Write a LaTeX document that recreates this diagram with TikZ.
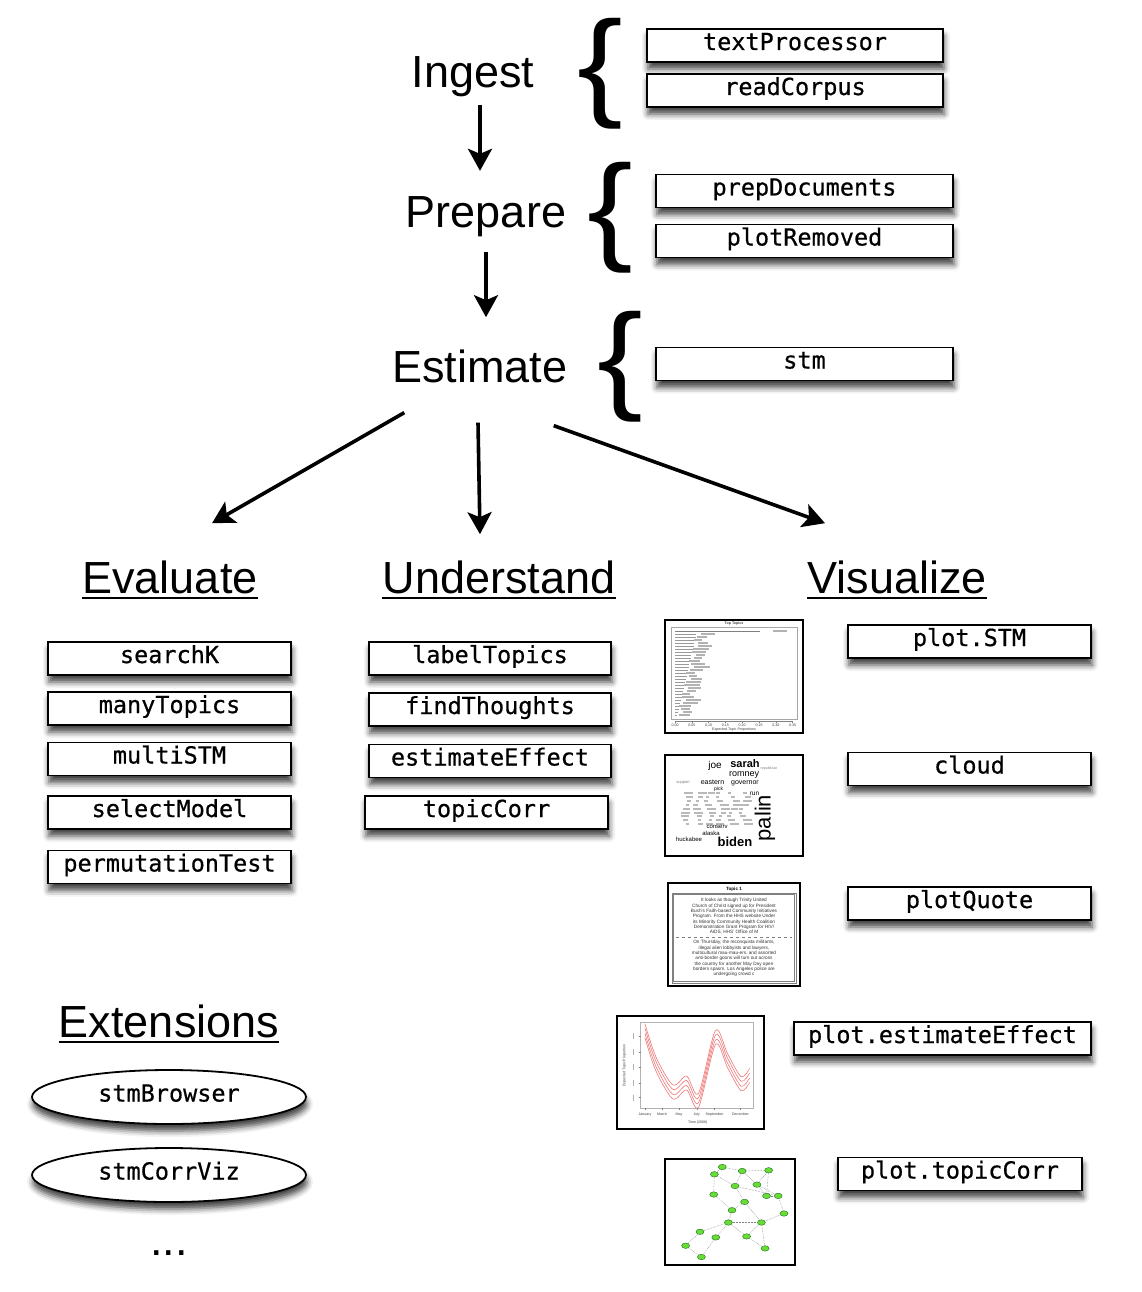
\documentclass[tikz,border=0pt]{standalone}
\usepackage{fontspec}
\setmainfont{Liberation Sans}
\setmonofont{DejaVu Sans Mono}
\newfontfamily\boxfont[BoldFont={DejaVu Sans Mono},BoldFeatures={FakeBold=0.6}]{DejaVu Sans Mono}
\usetikzlibrary{arrows.meta,shapes.geometric,shadows.blur}
\definecolor{netgreen}{RGB}{105,220,55}
\definecolor{curvered}{RGB}{240,120,120}

\begin{document}
\begin{tikzpicture}[x=1pt,y=-1pt,
  stage/.style={inner sep=0pt,anchor=base,font=\fontsize{45}{50}\selectfont},
  fnbox/.style={draw,line width=1.8pt,fill=white,inner sep=0pt,minimum height=33pt,
    text height=16pt,text depth=7pt,font=\boxfont\bfseries\fontsize{23.5}{26}\selectfont,
    blur shadow={shadow xshift=1pt,shadow yshift=-7pt,shadow blur radius=6pt,shadow opacity=75}},
  extbox/.style={fnbox,ellipse,minimum width=274pt,minimum height=54pt},
  flow/.style={line width=3.6pt,-{Stealth[length=22pt,width=24pt,inset=5pt]}},
  brace/.style={inner sep=0pt,font=\fontsize{119}{120}\selectfont},
  uline/.style={line width=2.6pt},
  thumb/.style={draw,line width=1.6pt,fill=white},
  thumbtxt/.style={inner sep=0pt,font=\fontsize{3.6}{4}\selectfont,text=black!75},
  netnode/.style={ellipse,fill=netgreen,draw=green!35!black,line width=0.3pt,minimum width=8pt,minimum height=5.5pt,inner sep=0pt},
]
\useasboundingbox (0,0) rectangle (1142,1292);

% pipeline
\node[stage] (ingest) at (473,88) {Ingest};
\node[stage] (prepare) at (486,227) {Prepare};
\node[stage] (estimate) at (480,382) {Estimate};

\draw[flow,shorten <=7pt,shorten >=25pt] ([xshift=7pt]ingest.south) -- ([xshift=-6pt]prepare.north);
\draw[flow,shorten <=15pt,shorten >=32pt] (prepare.south) -- (prepare.south |- estimate.north);

\node[brace] (br1) at (600,74) {\scalebox{1.15}[1]{\{}};
\node[brace] (br2) at (610,218) {\scalebox{1.15}[1]{\{}};
\node[brace] (br3) at (620,367) {\scalebox{1.15}[1]{\{}};

\node[fnbox,minimum width=296pt] (textProcessor) at (795,45.5) {textProcessor};
\node[fnbox,minimum width=296pt] (readCorpus) at (795,90.5) {readCorpus};
\node[fnbox,minimum width=297pt] (prepDocuments) at (804.5,191) {prepDocuments};
\node[fnbox,minimum width=297pt] (plotRemoved) at (804.5,241) {plotRemoved};
\node[fnbox,minimum width=297pt] (stm) at (804.5,364) {stm};

% three branches
\node[stage] (evaluate) at (170,593) {Evaluate};
\node[stage] (understand) at (499,593) {Understand};
\node[stage] (visualize) at (897,593) {Visualize};
\foreach \h in {evaluate,understand,visualize}
  \draw[uline] ([yshift=-5pt]\h.base west) -- ([yshift=-5pt]\h.base east);

\draw[flow] ([xshift=12pt,yshift=-30pt]estimate.south west) -- ([xshift=42pt,yshift=37pt]evaluate.north);
\draw[flow] ([xshift=-2pt,yshift=-40pt]estimate.south) -- ([xshift=-19pt,yshift=26pt]understand.north);
\draw[flow] ([xshift=-14pt,yshift=-43pt]estimate.south east) -- ([xshift=-72pt,yshift=37pt]visualize.north);

\node[fnbox,minimum width=243pt] (searchK) at (169.5,658.5) {searchK};
\node[fnbox,minimum width=243pt] (manyTopics) at (169.5,708.5) {manyTopics};
\node[fnbox,minimum width=243pt] (multiSTM) at (169.5,759) {multiSTM};
\node[fnbox,minimum width=243pt] (selectModel) at (169.5,812.5) {selectModel};
\node[fnbox,minimum width=243pt] (permutationTest) at (169.5,867) {permutationTest};

\node[fnbox,minimum width=242pt] (labelTopics) at (490,658.5) {labelTopics};
\node[fnbox,minimum width=242pt] (findThoughts) at (490,709.5) {findThoughts};
\node[fnbox,minimum width=242pt] (estimateEffect) at (490,761) {estimateEffect};
\node[fnbox,minimum width=243pt] (topicCorr) at (486.5,812.5) {topicCorr};

\node[fnbox,minimum width=243pt] (plotSTM) at (969.5,641.5) {plot.STM};
\node[fnbox,minimum width=243pt] (cloud) at (969.5,769) {cloud};
\node[fnbox,minimum width=243pt] (plotQuote) at (969.5,903.5) {plotQuote};
\node[fnbox,minimum width=297pt] (plotEffect) at (942.5,1038.5) {plot.estimateEffect};
\node[fnbox,minimum width=244pt] (plotCorr) at (960,1174) {plot.topicCorr};

% extensions
\node[stage] (extensions) at (169,1037) {Extensions};
\draw[uline] ([yshift=-5pt]extensions.base west) -- ([yshift=-5pt]extensions.base east);
\node[extbox] (stmBrowser) at (169,1097) {stmBrowser};
\node[extbox] (stmCorrViz) at (169,1175) {stmCorrViz};
\node[stage] (more) at (169,1255) {...};

% thumbnail: plot.STM
\begin{scope}[shift={(665,620)}]
\draw[thumb] (0,0) rectangle (138,113);
\draw[gray!70,line width=0.6pt] (6,7) rectangle (132,99);
\node[thumbtxt,font=\bfseries\fontsize{3.6}{4}\selectfont] (stmTitle) at (69,4) {Top Topics};
\draw[gray,line width=0.5pt] (10,11) -- (95,11);
\draw[gray!60,line width=1.3pt] (108,11) -- +(14,0);
\foreach \i in {1,...,28} {
  \draw[gray!80,line width=0.4pt] (10,{11+\i*3}) -- ({32-0.7*\i},{11+\i*3});
  \draw[gray!60,line width=1.3pt] ({34-0.7*\i+3*sin(\i*97)},{11+\i*3}) -- +({12+4*cos(\i*61)},0);
}
\draw[gray,line width=0.4pt] (10,101) -- (128,101);
\foreach \k/\v in {0/0.00,1/0.05,2/0.10,3/0.15,4/0.20,5/0.25,6/0.30,7/0.35} {
  \draw[gray,line width=0.4pt] ({10+\k*16.8},101) -- +(0,2);
  \node[thumbtxt] (stmTick\k) at ({10+\k*16.8},105.5) {\v};
}
\node[thumbtxt] (stmAxis) at (69,110) {Expected Topic Proportions};
\end{scope}

% thumbnail: cloud
\begin{scope}[shift={(665,755)}]
\draw[thumb] (0,0) rectangle (138,101);
\foreach \r in {0,...,8}
  \foreach \c in {0,...,5}
    \draw[gray!55,line width=2pt] ({19+\c*11.5+3*sin(\r*50+\c*80)},{38+\r*3.9}) -- +({6+3*cos(\r*70+\c*40)},0);
\node[inner sep=0pt,font=\bfseries\fontsize{11}{11}\selectfont] (wSarah) at (80,8.2) {sarah};
\node[inner sep=0pt,font=\fontsize{10}{10}\selectfont] (wJoe) at (50,11) {joe};
\node[inner sep=0pt,text=gray,font=\fontsize{3.6}{4}\selectfont] (wRep) at (104,13.8) {republican};
\node[inner sep=0pt,font=\fontsize{9}{9}\selectfont] (wRomney) at (79,20.5) {romney};
\node[inner sep=0pt,font=\fontsize{7}{8}\selectfont] (wEastern) at (47.5,27.5) {eastern};
\node[inner sep=0pt,font=\fontsize{7}{8}\selectfont] (wGovernor) at (80,28) {governor};
\node[inner sep=0pt,text=gray,font=\fontsize{4}{4}\selectfont] (wSupport) at (18,28) {support};
\node[inner sep=0pt,font=\fontsize{5}{5}\selectfont] (wPick) at (53.6,33.8) {pick};
\node[inner sep=0pt,font=\fontsize{6.5}{7}\selectfont] (wRun) at (89.5,38.5) {run};
\node[inner sep=0pt,rotate=90,font=\fontsize{22}{22}\selectfont] (wPalin) at (100,63) {palin};
\node[inner sep=0pt,font=\fontsize{6}{6}\selectfont] (wConserv) at (52,72) {conserv};
\node[inner sep=0pt,font=\fontsize{6}{6}\selectfont] (wAlaska) at (46,78.5) {alaska};
\node[inner sep=0pt,font=\fontsize{6}{6}\selectfont] (wHuckabee) at (24,84.5) {huckabee};
\node[inner sep=0pt,font=\bfseries\fontsize{13}{13}\selectfont] (wBiden) at (70,87) {biden};
\end{scope}

% thumbnail: plotQuote
\begin{scope}[shift={(668,883)}]
\draw[thumb] (0,0) rectangle (132,103);
\draw[gray,line width=0.5pt] (4,10) rectangle (128,100);
\draw[gray,line width=0.5pt] (5.5,11.5) rectangle (126.5,98.5);
\node[inner sep=0pt,font=\bfseries\fontsize{4.6}{5}\selectfont] (qTitle) at (66,6.5) {Topic 1};
\node[inner sep=0pt,align=center,text=black!80,font=\fontsize{4.7}{5.35}\selectfont] (quoteA) at (66,33.5)
  {It looks as though Trinity United\\Church of Christ signed up for President\\Bush's Faith-based Community Initiatives\\Program. From the HHS website Under\\its Minority Community Health Coalition\\Demonstration Grant Program for HIV/\\AIDS, HHS' Office of M};
\draw[gray,dashed,line width=0.4pt] (8,54) -- (124,54);
\node[inner sep=0pt,align=center,text=black!80,font=\fontsize{4.7}{5.35}\selectfont] (quoteB) at (66,75.5)
  {On Thursday, the reconquista militants,\\illegal alien lobbyists and lawyers,\\multicultural mau-mau-ers, and assorted\\anti-border goons will turn out across\\the country for another May Day open\\borders spasm. Los Angeles police are\\undergoing crowd c};
\end{scope}

% thumbnail: plot.estimateEffect
\begin{scope}[shift={(617,1016)}]
\draw[thumb] (0,0) rectangle (147,113);
\draw[gray!60,line width=0.8pt] (23.5,6) rectangle (136.7,92.4);
\node[thumbtxt,rotate=90] (yLab) at (7.5,49.5) {Expected Topic Proportion};
\foreach \t in {19.8,36.3,51.2,67,81.5} {
  \draw[gray,line width=0.4pt] (21.5,\t) -- (23.5,\t);
  \draw[gray!60,line width=1pt] (16.5,{\t-3}) -- (16.5,{\t+3});
}
\foreach \m/\xx in {January/28,March/45,May/62,July/79.8,September/97.5,December/123.4} {
  \draw[gray,line width=0.4pt] (\xx,92.4) -- (\xx,94.4);
  \node[thumbtxt] (m\m) at (\xx,98.5) {\m};
}
\node[thumbtxt] (xLab) at (80.8,106.6) {Time (2008)};
\foreach \d in {-7,-2.5,2.5,7}
  \draw[curvered,line width=0.6pt,yshift=\d pt] plot[smooth] coordinates
    {(28,14.9) (38.9,47.9) (55.9,75.9) (69.6,67) (81.5,84.2) (98.5,21.5) (110.5,44.6) (124.1,67.7) (132.6,59.4)};
\end{scope}

% thumbnail: plot.topicCorr
\begin{scope}[shift={(665,1159)}]
\draw[thumb] (0,0) rectangle (130,106);
\foreach \n/\x/\y in {1/57.3/8,2/49.4/15.3,3/77.2/12,4/103.6/11.3,5/70/27,6/91.9/25.6,
    7/48.7/35.5,8/101.5/36.9,9/113.2/36.9,10/79.6/42.9,11/67/51.2,12/119/54.5,
    13/63.4/63.5,14/96.4/63.5,15/35/72.8,16/50.8/78.4,17/81.6/77.4,18/20.6/86.7,
    19/100.1/89.4,20/36.4/98}
  \node[netnode] (c\n) at (\x,\y) {};
\foreach \a/\b in {1/3,3/4,1/2,2/5,3/5,3/6,4/6,2/7,5/10,6/8,6/9,8/9,5/9,7/11,10/11,
    10/14,9/12,12/14,11/13,13/14,13/15,13/16,13/17,17/14,14/19,15/18,16/20,18/20,17/19,4/8}
  \draw[gray,densely dotted,line width=0.5pt] (c\a) -- (c\b);
\end{scope}

\end{tikzpicture}
\end{document}
